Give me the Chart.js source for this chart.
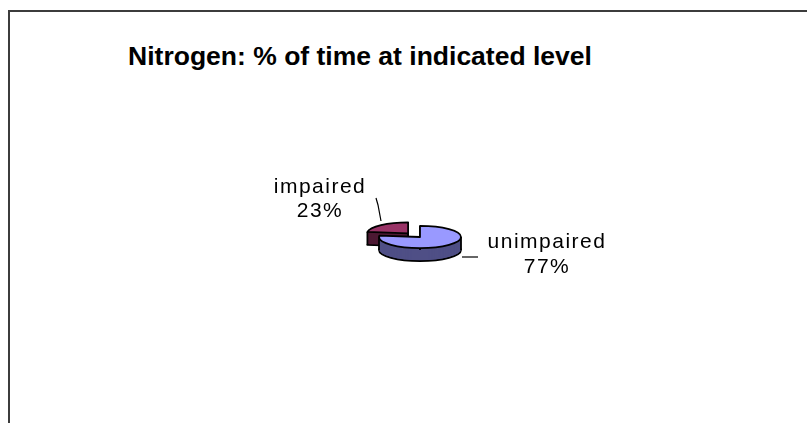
<!DOCTYPE html>
<html>
<head>
<meta charset="utf-8">
<script src="https://cdn.jsdelivr.net/npm/chart.js@4.4.1/dist/chart.umd.min.js"></script>
<style>
  html, body { margin: 0; padding: 0; background: #fff; overflow: hidden; }
  #wrap { position: relative; width: 807px; height: 423px; overflow: hidden; }
  #frame { position: absolute; left: 8px; top: 10px; width: 900px; height: 500px;
           border-left: 2px solid #3c3c3c; border-top: 2px solid #3c3c3c; }
  #title { position: absolute; left: 0; top: 43px; width: 720px; text-align: center;
           font: bold 26.5px "Liberation Sans", Arial, sans-serif; line-height: 26px; color: #000; }
  canvas { position: absolute; left: 0; top: 0; }
</style>
</head>
<body>
<div id="wrap">
  <div id="frame"></div>
  <div id="title">Nitrogen: % of time at indicated level</div>
  <canvas id="pieChart" width="807" height="423"></canvas>
</div>
<script>
// --- Data ---
const labels = ['unimpaired', 'impaired'];
const values = [77, 23];
const explode = [0, 18];

// --- Colors ---
const topColors = ['#9999ff', '#993366'];
const sideColors = ['#4f4f86', '#4d1933'];

// --- 3D look ---
const TILT = 0.27;
const DEPTH = 13;

// label placement relative to the pie centre (style only)
const labelAt = [
  { dx: 126, dy: 11, gap: 25, leader: [[42, 20], [58, 20]] },
  { dx: -101, dy: -44, gap: 24, leader: [[-44, -39], [-42, -32], [-39, -16]] }
];

function sliceGeom(arc) {
  const p = arc.getProps(['x', 'y', 'startAngle', 'endAngle', 'outerRadius'], true);
  const off = arc.options.offset || 0;
  const mid = (p.startAngle + p.endAngle) / 2;
  return {
    x0: p.x, y0: p.y,
    cx: p.x + Math.cos(mid) * off,
    cy: p.y + Math.sin(mid) * off * TILT,
    rx: p.outerRadius,
    ry: p.outerRadius * TILT,
    a0: p.startAngle, a1: p.endAngle, mid
  };
}

function wedge(ctx, g, dy) {
  ctx.beginPath();
  ctx.moveTo(g.cx, g.cy + dy);
  ctx.ellipse(g.cx, g.cy + dy, g.rx, g.ry, 0, g.a0, g.a1);
  ctx.closePath();
}

function inRange(a, g) {
  for (let k = -1; k <= 1; k++) {
    const t = a + k * 2 * Math.PI;
    if (t >= g.a0 && t <= g.a1) return true;
  }
  return false;
}

function vline(ctx, x, y) {
  ctx.beginPath();
  ctx.moveTo(x, y);
  ctx.lineTo(x, y + DEPTH);
  ctx.stroke();
}

const pie3d = {
  id: 'pie3d',
  beforeDatasetsDraw(chart) {
    const ctx = chart.ctx;
    const arcs = chart.getDatasetMeta(0).data;
    const geoms = arcs.map((arc, i) => Object.assign(sliceGeom(arc), { i }));
    // back to front
    geoms.sort((a, b) => Math.sin(a.mid) - Math.sin(b.mid));
    ctx.save();
    ctx.lineJoin = 'round';
    geoms.forEach(g => {
      // bottom outline
      ctx.strokeStyle = '#000';
      ctx.lineWidth = 1.8;
      wedge(ctx, g, DEPTH);
      ctx.fillStyle = sideColors[g.i];
      ctx.fill();
      ctx.stroke();
      // extruded side
      for (let k = DEPTH - 1; k >= 1; k--) {
        wedge(ctx, g, k);
        ctx.fill();
      }
      // vertical edges
      [0, Math.PI].forEach(a => {
        if (inRange(a, g)) vline(ctx, g.cx + g.rx * Math.cos(a), g.cy + g.ry * Math.sin(a));
      });
      const startFace = Math.sin(g.a0 - Math.PI / 2) >= -0.01;
      const endFace = Math.sin(g.a1 + Math.PI / 2) >= -0.01;
      if (startFace || endFace) vline(ctx, g.cx, g.cy);
      if (startFace) vline(ctx, g.cx + g.rx * Math.cos(g.a0), g.cy + g.ry * Math.sin(g.a0));
      if (endFace) vline(ctx, g.cx + g.rx * Math.cos(g.a1), g.cy + g.ry * Math.sin(g.a1));
      // top face
      wedge(ctx, g, 0);
      ctx.fillStyle = topColors[g.i];
      ctx.fill();
      ctx.stroke();
    });
    ctx.restore();
    return false;
  },
  afterDraw(chart) {
    const ctx = chart.ctx;
    const arcs = chart.getDatasetMeta(0).data;
    const total = values.reduce((a, b) => a + b, 0);
    ctx.save();
    arcs.forEach((arc, i) => {
      const g = sliceGeom(arc);
      const L = labelAt[i];
      // leader line
      ctx.strokeStyle = '#000';
      ctx.lineWidth = 1.2;
      ctx.beginPath();
      L.leader.forEach((pt, j) => {
        const x = g.x0 + pt[0], y = g.y0 + pt[1];
        if (j === 0) ctx.moveTo(x, y); else ctx.lineTo(x, y);
      });
      ctx.stroke();
      // text
      ctx.fillStyle = '#000';
      ctx.font = '21px "Liberation Sans", Arial, sans-serif';
      ctx.letterSpacing = '1.5px';
      ctx.textAlign = 'center';
      ctx.textBaseline = 'alphabetic';
      const pct = Math.round(values[i] / total * 100) + '%';
      ctx.fillText(labels[i], g.x0 + L.dx + 1, g.y0 + L.dy);
      ctx.fillText(pct, g.x0 + L.dx + 1, g.y0 + L.dy + L.gap);
    });
    ctx.restore();
  }
};

const pieCtx = document.getElementById('pieChart').getContext('2d');
new Chart(pieCtx, {
  type: 'pie',
  data: {
    labels: labels,
    datasets: [{
      data: values,
      backgroundColor: topColors,
      offset: explode,
      radius: 41,
      borderWidth: 0
    }]
  },
  options: {
    responsive: false,
    devicePixelRatio: 1,
    animation: false,
    events: [],
    layout: { padding: { left: 33, right: 0, top: 160, bottom: 109 } },
    plugins: {
      legend: { display: false },
      title: { display: false },
      tooltip: { enabled: false }
    }
  },
  plugins: [pie3d]
});
</script>
</body>
</html>
